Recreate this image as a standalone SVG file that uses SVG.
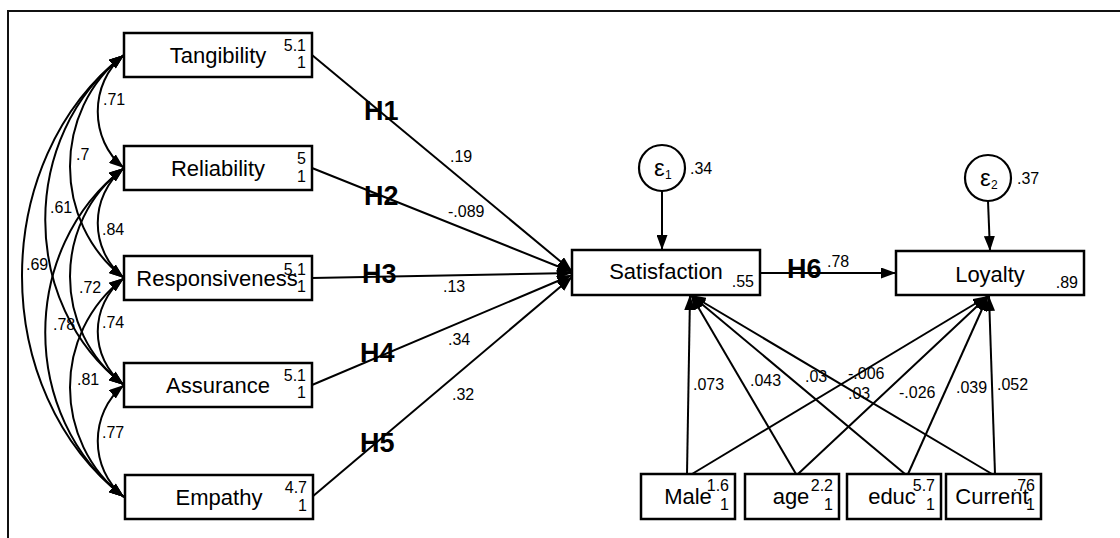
<svg xmlns="http://www.w3.org/2000/svg" width="1120" height="538" viewBox="0 0 1120 538">
<defs>
<marker id="ah" markerUnits="userSpaceOnUse" markerWidth="15" markerHeight="11" refX="15" refY="5.5" orient="auto-start-reverse" viewBox="0 0 15 11">
<path d="M0,0 L15,5.5 L0,11 z" fill="#000"/>
</marker>
<style>
.box{fill:#fff;stroke:#000;stroke-width:2.5}
.circ{fill:#fff;stroke:#000;stroke-width:2.2}
.lbl{font-family:"Liberation Sans",Arial,sans-serif;font-size:22px;fill:#000}
.num{font-family:"Liberation Sans",Arial,sans-serif;font-size:16px;fill:#000}
.hyp{font-family:"Liberation Sans",Arial,sans-serif;font-size:27px;font-weight:bold;fill:#000}
.eps{font-family:"Liberation Sans",Arial,sans-serif;font-size:24px;fill:#000}
.sub{font-family:"Liberation Sans",Arial,sans-serif;font-size:12px;fill:#000}
.ln{fill:none;stroke:#000;stroke-width:2;marker-end:url(#ah)}
.arc{fill:none;stroke:#000;stroke-width:2;marker-start:url(#ah);marker-end:url(#ah)}
.frame{fill:none;stroke:#111;stroke-width:2}
</style>
</defs>
<rect width="1120" height="538" fill="#fff"/>
<path class="frame" d="M1120,11 L8,11 L8,538"/>

<g id="connectors">
<path class="ln" d="M312,55 L572,271"/>
<path class="ln" d="M312,168 L572,272"/>
<path class="ln" d="M312,278 L572,273"/>
<path class="ln" d="M312,385 L572,275"/>
<path class="ln" d="M312,497 L572,277"/>
<path class="ln" d="M662,191 L662,250"/>
<path class="ln" d="M988,201 L990,251"/>
<path class="ln" d="M760,273 L896,273"/>
<path class="ln" d="M687,474 L690,295"/>
<path class="ln" d="M692,474 L988,296"/>
<path class="ln" d="M796,474 L691,295"/>
<path class="ln" d="M798,474 L988,296"/>
<path class="ln" d="M905,474 L691,295"/>
<path class="ln" d="M908,474 L988,296"/>
<path class="ln" d="M992,474 L691,295"/>
<path class="ln" d="M995,474 L989,296"/>
<path class="arc" d="M124,55 C89,83 89,140 124,168"/>
<path class="arc" d="M124,168 C89,196 89,250 124,278"/>
<path class="arc" d="M124,278 C89,305 89,358 124,385"/>
<path class="arc" d="M124,385 C89,413 89,469 124,497"/>
<path class="arc" d="M124,55 C52,110 52,223 124,278"/>
<path class="arc" d="M124,168 C52,222 52,331 124,385"/>
<path class="arc" d="M124,278 C52,333 52,442 124,497"/>
<path class="arc" d="M124,55 C19,135 19,305 124,385"/>
<path class="arc" d="M124,168 C19,248 19,417 124,497"/>
<path class="arc" d="M124,55 C-12,160 -12,392 124,497"/>
<text class="num" x="103" y="105">.71</text>
<text class="num" x="76" y="160">.7</text>
<text class="num" x="50" y="213">.61</text>
<text class="num" x="102" y="235">.84</text>
<text class="num" x="26" y="270">.69</text>
<text class="num" x="79" y="293">.72</text>
<text class="num" x="102" y="328">.74</text>
<text class="num" x="53" y="330">.78</text>
<text class="num" x="77" y="385">.81</text>
<text class="num" x="102" y="438">.77</text>
<text class="hyp" x="364" y="120">H1</text>
<text class="hyp" x="364" y="205">H2</text>
<text class="hyp" x="362" y="283">H3</text>
<text class="hyp" x="360" y="362">H4</text>
<text class="hyp" x="360" y="452">H5</text>
<text class="hyp" x="787" y="278">H6</text>
<text class="num" x="450" y="162">.19</text>
<text class="num" x="448" y="217">-.089</text>
<text class="num" x="443" y="292">.13</text>
<text class="num" x="448" y="345">.34</text>
<text class="num" x="452" y="400">.32</text>
<text class="num" x="827" y="267">.78</text>
<text class="num" x="693" y="390">.073</text>
<text class="num" x="750" y="386">.043</text>
<text class="num" x="805" y="382">.03</text>
<text class="num" x="848" y="379">-.006</text>
<text class="num" x="848" y="399">.03</text>
<text class="num" x="899" y="398">-.026</text>
<text class="num" x="956" y="393">.039</text>
<text class="num" x="997" y="390">.052</text>
</g>

<g id="tangibility">
<rect class="box" x="124" y="33" width="188" height="44"/>
<text class="lbl" x="218" y="63" text-anchor="middle">Tangibility</text>
<text class="num" x="306" y="51" text-anchor="end">5.1</text>
<text class="num" x="306" y="68" text-anchor="end">1</text>
</g>
<g id="reliability">
<rect class="box" x="124" y="146" width="188" height="44"/>
<text class="lbl" x="218" y="176" text-anchor="middle">Reliability</text>
<text class="num" x="306" y="164" text-anchor="end">5</text>
<text class="num" x="306" y="182" text-anchor="end">1</text>
</g>
<g id="responsiveness">
<rect class="box" x="124" y="256" width="188" height="44"/>
<text class="lbl" x="217" y="286" text-anchor="middle">Responsiveness</text>
<text class="num" x="306" y="275" text-anchor="end">5.1</text>
<text class="num" x="306" y="292" text-anchor="end">1</text>
</g>
<g id="assurance">
<rect class="box" x="124" y="363" width="188" height="44"/>
<text class="lbl" x="218" y="393" text-anchor="middle">Assurance</text>
<text class="num" x="306" y="381" text-anchor="end">5.1</text>
<text class="num" x="306" y="398" text-anchor="end">1</text>
</g>
<g id="empathy">
<rect class="box" x="125" y="475" width="188" height="44"/>
<text class="lbl" x="219" y="505" text-anchor="middle">Empathy</text>
<text class="num" x="307" y="493" text-anchor="end">4.7</text>
<text class="num" x="307" y="511" text-anchor="end">1</text>
</g>

<g id="satisfaction">
<rect class="box" x="572" y="250" width="188" height="45"/>
<text class="lbl" x="666" y="279" text-anchor="middle">Satisfaction</text>
<text class="num" x="754" y="287" text-anchor="end">.55</text>
</g>
<g id="e1">
<circle class="circ" cx="662" cy="168" r="23"/>
<text class="eps" x="654" y="176">ε</text>
<text class="sub" x="665" y="179">1</text>
<text class="num" x="690" y="174">.34</text>
</g>
<g id="loyalty">
<rect class="box" x="896" y="251" width="188" height="44"/>
<text class="lbl" x="990" y="282" text-anchor="middle">Loyalty</text>
<text class="num" x="1078" y="288" text-anchor="end">.89</text>
</g>
<g id="e2">
<circle class="circ" cx="988" cy="178" r="23"/>
<text class="eps" x="980" y="186">ε</text>
<text class="sub" x="991" y="189">2</text>
<text class="num" x="1017" y="184">.37</text>
</g>

<g id="male">
<rect class="box" x="641" y="474" width="94" height="45"/>
<text class="lbl" x="688" y="504" text-anchor="middle">Male</text>
<text class="num" x="729" y="491" text-anchor="end">1.6</text>
<text class="num" x="729" y="510" text-anchor="end">1</text>
</g>
<g id="age">
<rect class="box" x="745" y="474" width="94" height="45"/>
<text class="lbl" x="791" y="504" text-anchor="middle">age</text>
<text class="num" x="833" y="491" text-anchor="end">2.2</text>
<text class="num" x="833" y="510" text-anchor="end">1</text>
</g>
<g id="educ">
<rect class="box" x="847" y="474" width="94" height="45"/>
<text class="lbl" x="892" y="504" text-anchor="middle">educ</text>
<text class="num" x="935" y="491" text-anchor="end">5.7</text>
<text class="num" x="935" y="510" text-anchor="end">1</text>
</g>
<g id="current">
<rect class="box" x="946" y="474" width="95" height="45"/>
<text class="lbl" x="992" y="504" text-anchor="middle">Current</text>
<text class="num" x="1035" y="491" text-anchor="end">.76</text>
<text class="num" x="1035" y="510" text-anchor="end">1</text>
</g>
</svg>
